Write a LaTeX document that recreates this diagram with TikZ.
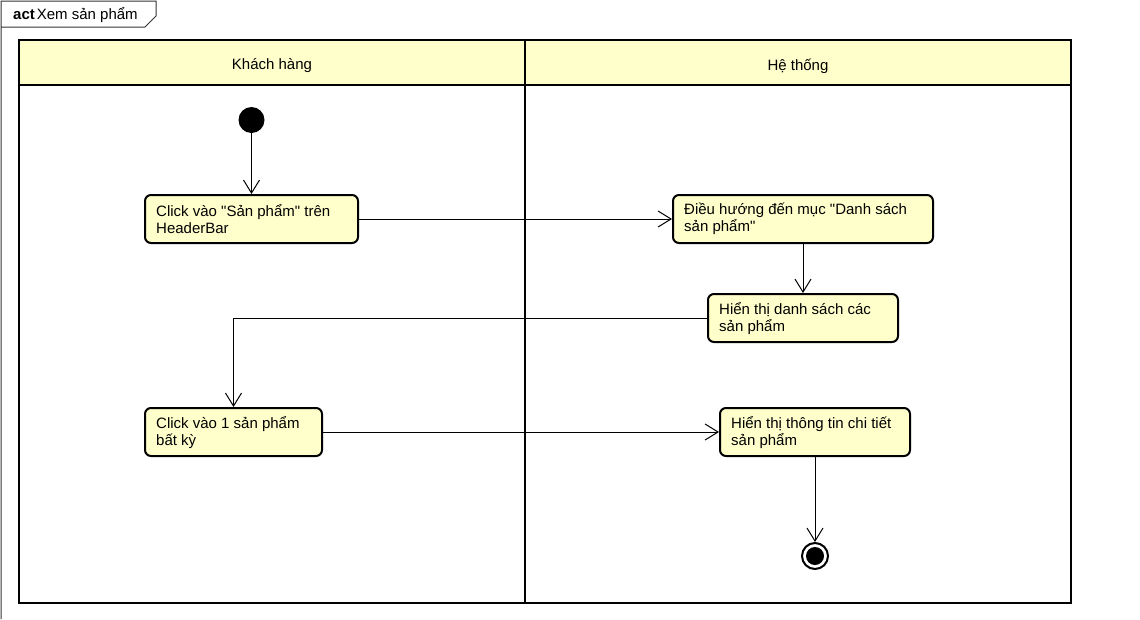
\documentclass[tikz,border=0pt]{standalone}
\usepackage{fontspec}
\setmainfont{Liberation Sans}[Ligatures=TeXOff]
\usetikzlibrary{arrows.meta}
\definecolor{umlfill}{RGB}{255,255,204}
\begin{document}
\begin{tikzpicture}[x=1pt,y=-1pt,
  font=\fontsize{15}{17}\selectfont,
  lane/.style={draw=black, line width=2pt},
  action/.style={draw=black, line width=2pt, fill=umlfill, rounded corners=6pt,
    anchor=north west, minimum height=48pt, inner sep=0pt},
  txt/.style={anchor=west, align=left, inner sep=0pt},
  flow/.style={draw=black, line width=1pt,
    -{Straight Barb[length=13pt,width=16pt,line width=1pt]}},
  header/.style={inner sep=0pt}
]
\useasboundingbox (0,0) rectangle (1140,619);

% diagram frame with name tab
\draw[line width=1pt, black!80] (1,619) -- (1,1) -- (156,1) -- (156,16) -- (145,27) -- (1,27);
\node[anchor=base west, inner sep=0pt] (title) at (13,19) {\textbf{act}\kern2pt Xem sản phẩm};

% swimlanes
\fill[umlfill] (19,40) rectangle (1071,85);
\draw[lane] (19,40) rectangle (1071,603);
\draw[lane] (19,85) -- (1071,85);
\draw[lane] (525,40) -- (525,603);
\node[header] (lane1) at (272,66) {Khách hàng};
\node[header] (lane2) at (798,66) {Hệ thống};

% actions
\node[action, minimum width=213pt] (a1) at (144,194) {};
\node[txt] at ([xshift=12pt]a1.west) {Click vào "Sản phẩm" trên\\HeaderBar};

\node[action, minimum width=260pt] (a2) at (672,194) {};
\node[txt] at ([xshift=12pt]a2.west) {Điều hướng đến mục "Danh sách\\sản phẩm"};

\node[action, minimum width=190pt] (a3) at (707,293) {};
\node[txt] at ([xshift=12pt]a3.west) {Hiển thị danh sách các\\sản phẩm};

\node[action, minimum width=177pt] (a4) at (144,407) {};
\node[txt] at ([xshift=12pt]a4.west) {Click vào 1 sản phẩm\\bất kỳ};

\node[action, minimum width=190pt] (a5) at (719,407) {};
\node[txt] at ([xshift=12pt]a5.west) {Hiển thị thông tin chi tiết\\sản phẩm};

% start and final nodes
\node[circle, fill=black, minimum size=26pt, inner sep=0pt] (start) at (a1.north |- 0,120) {};
\node[circle, draw=black, line width=2pt, fill=white, minimum size=26pt, inner sep=0pt] (end) at (a5.south |- 0,556) {};
\node[circle, fill=black, minimum size=18pt, inner sep=0pt] (endcore) at (end) {};

% control flows
\draw[flow] (start) -- (a1.north);
\draw[flow] (a1.east) -- (a2.west);
\draw[flow] (a2.south) -- (a3.north);
\draw[flow] (a3.west) -| (a4.north);
\draw[flow] (a4.east) -- (a5.west);
\draw[flow] (a5.south) -- (end.north);
\end{tikzpicture}
\end{document}
